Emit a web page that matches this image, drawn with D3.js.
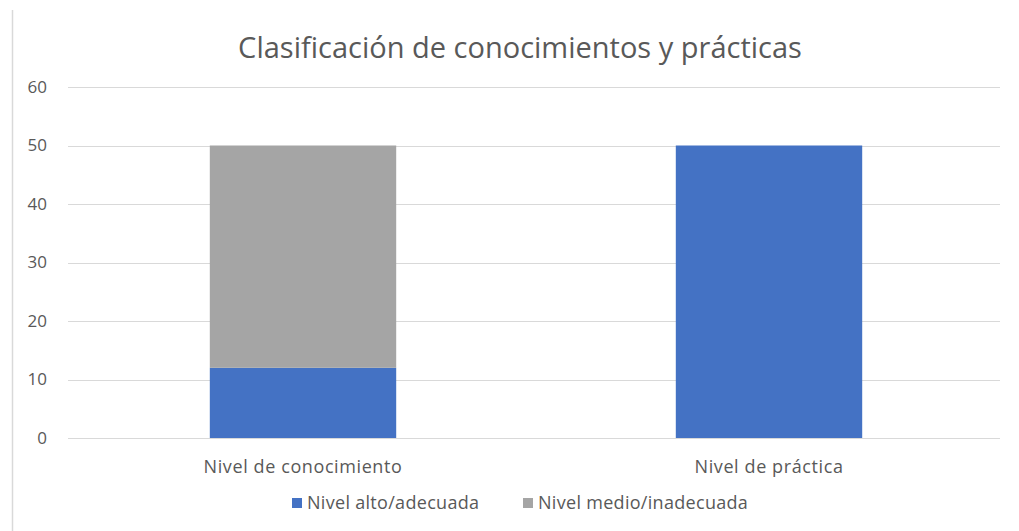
<!DOCTYPE html>
<html>
<head>
<meta charset="utf-8">
<script src="https://cdn.jsdelivr.net/npm/d3@7"></script>
<style>
body { margin: 0; background: #fff; }
text { font-family: "Open Sans", "Noto Sans", sans-serif; fill: #595959; }
</style>
</head>
<body>
<script>
// chart data
var categories = ["Nivel de conocimiento", "Nivel de práctica"];
var seriesNames = ["Nivel alto/adecuada", "Nivel medio/inadecuada"];
var altoValues = [12, 50];
var medioValues = [38, 0];
var yTicks = [0, 10, 20, 30, 40, 50, 60];
var colors = ["#4472c4", "#a5a5a5"];

var width = 1019, height = 531;
var plotLeft = 68, plotRight = 1000, plotTop = 87, plotBottom = 438;

var rows = categories.map(function(c, i) {
    return { cat: c, alto: altoValues[i], medio: medioValues[i] };
});
var stack = d3.stack().keys(["alto", "medio"])(rows);

var svg = d3.select("body").append("svg")
    .attr("width", width)
    .attr("height", height);

// left border line of the original frame
svg.append("line")
    .attr("x1", 12.5).attr("x2", 12.5)
    .attr("y1", 10).attr("y2", height)
    .attr("stroke", "#d9d9d9").attr("stroke-width", 1.5);

var x = d3.scaleBand()
    .domain(categories)
    .range([plotLeft + 2, plotRight + 2])
    .paddingInner(0.6)
    .paddingOuter(0.3);

var y = d3.scaleLinear()
    .domain([0, 60])
    .range([plotBottom, plotTop]);

// gridlines
svg.append("g")
    .selectAll("line")
    .data(yTicks)
    .enter()
    .append("line")
    .attr("x1", plotLeft).attr("x2", plotRight)
    .attr("y1", function(d) { return Math.round(y(d)) + 0.5; })
    .attr("y2", function(d) { return Math.round(y(d)) + 0.5; })
    .attr("stroke", "#d9d9d9")
    .attr("stroke-width", 1.2);

// y axis labels
var yAxis = d3.axisLeft(y).tickValues(yTicks).tickSize(0).tickPadding(0);
var yg = svg.append("g")
    .attr("transform", "translate(47,0)")
    .call(yAxis);
yg.select(".domain").remove();
yg.selectAll("text")
    .style("font-size", "17px")
    .style("font-family", "'Open Sans', sans-serif")
    .attr("fill", "#595959");

// bars
svg.append("g")
    .selectAll("g")
    .data(stack)
    .enter()
    .append("g")
    .attr("fill", function(d, i) { return colors[i]; })
    .selectAll("rect")
    .data(function(d) { return d; })
    .enter()
    .append("rect")
    .attr("x", function(d) { return x(d.data.cat); })
    .attr("width", x.bandwidth())
    .attr("y", function(d) { return y(d[1]); })
    .attr("height", function(d) { return y(d[0]) - y(d[1]); });

// x axis labels
var xAxis = d3.axisBottom(x).tickSize(0).tickPadding(0);
var xg = svg.append("g")
    .attr("transform", "translate(0,473)")
    .call(xAxis);
xg.select(".domain").remove();
xg.selectAll("text")
    .attr("dy", 0)
    .style("font-size", "18px")
    .style("letter-spacing", "0.6px")
    .style("font-family", "'Open Sans', sans-serif")
    .attr("fill", "#595959");

// title
svg.append("text")
    .attr("x", 520)
    .attr("y", 58)
    .attr("text-anchor", "middle")
    .style("font-size", "29px")
    .text("Clasificación de conocimientos y prácticas");

// legend
var legendX = [292, 523];
var legend = svg.append("g")
    .selectAll("g")
    .data(seriesNames)
    .enter()
    .append("g")
    .attr("transform", function(d, i) { return "translate(" + legendX[i] + ",498)"; });

legend.append("rect")
    .attr("width", 10).attr("height", 10)
    .attr("fill", function(d, i) { return colors[i]; });

legend.append("text")
    .attr("x", 15)
    .attr("y", 11)
    .style("font-size", "18px")
    .style("letter-spacing", "0.3px")
    .text(function(d) { return d; });
</script>
</body>
</html>
